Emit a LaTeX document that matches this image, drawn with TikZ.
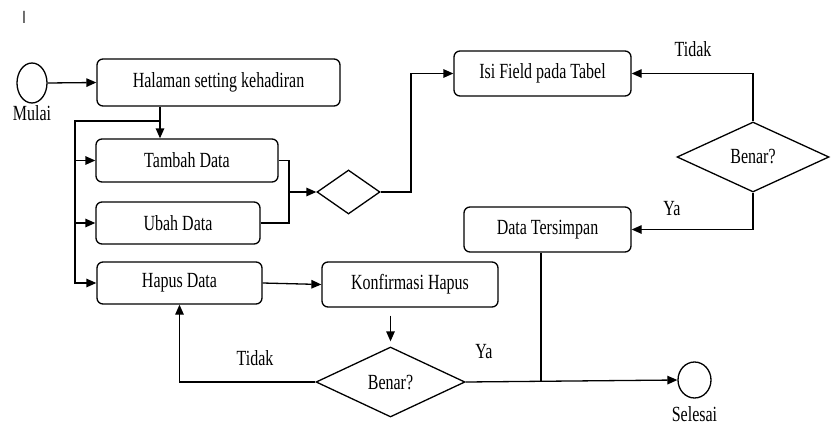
\documentclass[tikz,border=0pt]{standalone}
\usepackage{fontspec}
\usepackage{graphicx}
\setmainfont{Liberation Serif}
\usetikzlibrary{shapes.geometric,arrows.meta}
\newcommand{\vs}[1]{\scalebox{1}[1.35]{#1}}
\begin{document}
\begin{tikzpicture}[x=1pt,y=-1pt,
  every node/.style={font=\fontsize{16}{18}\selectfont, inner sep=0pt},
  act/.style={draw, line width=1.3pt, rounded corners=6pt, anchor=center},
  dec/.style={draw, line width=1.3pt, diamond, aspect=2, anchor=center},
  term/.style={draw, line width=1.3pt, ellipse},
  conn/.style={line width=1.3pt},
  arr/.style={conn, -{Triangle[length=10pt,width=8.5pt]}},
  lbl/.style={anchor=center}]
\useasboundingbox (0,0) rectangle (834,425);
% stray mark
\node[font=\fontsize{13}{15}\sffamily] (mark) at (24,17) {\vs{I}};
% nodes
\node[term, minimum width=30, minimum height=40] (mulai) at (32,83) {};
\node[lbl] (mulaiL) at (32,113) {\vs{Mulai}};
\node[act, minimum width=243, minimum height=47] (halaman) at (218.5,82.5) {\vs{Halaman setting kehadiran}};
\node[act, minimum width=182, minimum height=43] (tambah) at (187,160.5) {\vs{Tambah Data}};
\node[act, minimum width=164, minimum height=42] (ubah) at (178,223) {\vs{Ubah Data}};
\node[act, minimum width=165, minimum height=42] (hapus) at (179.5,283) {\vs{Hapus Data}};
\node[act, minimum width=176, minimum height=45] (konf) at (410,284.5) {\vs{Konfirmasi Hapus}};
\node[dec, minimum width=63, minimum height=44] (d1) at (348.5,192) {};
\node[act, minimum width=177, minimum height=45] (isi) at (542.5,73.5) {\vs{Isi Field pada Tabel}};
\node[dec, minimum width=152, minimum height=70] (benar1) at (753,157) {\vs{Benar?}};
\node[act, minimum width=167, minimum height=45] (simpan) at (547.5,229.5) {\vs{Data Tersimpan}};
\node[dec, minimum width=149, minimum height=70] (benar2) at (390.5,382) {\vs{Benar?}};
\node[term, minimum width=33, minimum height=36] (selesai) at (694.5,380) {};
\node[lbl] (selesaiL) at (694.5,414) {\vs{Selesai}};
% labels
\node[lbl] (tidak1) at (693,49) {\vs{Tidak}};
\node[lbl] (ya1) at (672,209) {\vs{Ya}};
\node[lbl] (ya2) at (484,352) {\vs{Ya}};
\node[lbl] (tidak2) at (255,358) {\vs{Tidak}};
% coordinates
\coordinate (j1) at (160,121);
\coordinate (lx) at (75,121);
\coordinate (mx) at (289,192);
\coordinate (ux) at (411,73.5);
\coordinate (dx) at (541,252);
% connectors
\draw[arr] (mulai.east) -- (halaman.west);
\draw[arr] (halaman.south -| j1) -- (tambah.north -| j1);
\draw[arr] (j1) -- (lx) |- (hapus.west);
\draw[arr] (lx |- tambah.west) -- (tambah.west);
\draw[arr] (lx |- ubah.west) -- (ubah.west);
\draw[conn] (tambah.east) -| (mx);
\draw[conn] (ubah.east) -| (mx);
\draw[arr] (mx) -- (d1.west);
\draw[arr] (d1.east) -| (ux) -- (isi.west);
\draw[arr] (benar1.north) |- (isi.east);
\draw[arr] (benar1.south) |- (simpan.east);
\draw[arr] (benar2.east) -- (selesai.west);
\draw[conn] (simpan.south -| dx) -- (dx |- benar2.east);
\draw[arr] (benar2.west) -| (hapus.south);
\draw[arr] (hapus.east) -- (konf.west);
\draw[arr, shorten <=8pt, shorten >=5pt] (konf.south -| benar2.north) -- (benar2.north);
\end{tikzpicture}
\end{document}
